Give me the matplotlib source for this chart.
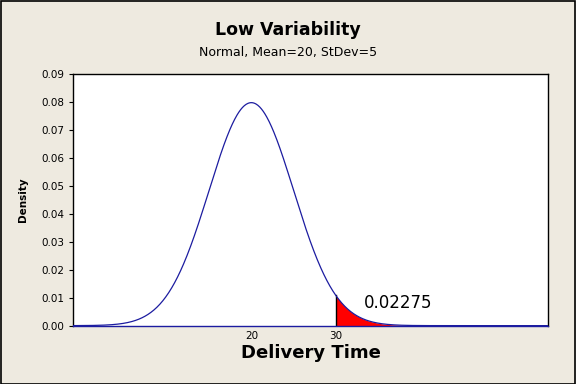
import numpy as np
import matplotlib.pyplot as plt
from matplotlib.patches import Rectangle

# Distribution shown in the chart
mean = 20
stdev = 5
cutoff = 30
tail_prob = "0.02275"

x_ticks = [20, 30]
y_ticks = [0.00, 0.01, 0.02, 0.03, 0.04, 0.05, 0.06, 0.07, 0.08, 0.09]

bg = "#EEEAE0"
curve_col = "#1C1CA0"

fig = plt.figure(figsize=(5.76, 3.84), dpi=100, facecolor=bg)
ax = fig.add_axes([0.1267, 0.152, 0.8247, 0.655])

x = np.linspace(-1.1, 55.1, 800)
pdf = np.exp(-0.5 * ((x - mean) / stdev) ** 2) / (stdev * np.sqrt(2 * np.pi))
ax.plot(x, pdf, color=curve_col, lw=0.9, zorder=3)

# shaded right tail
xt = x[x >= cutoff]
xt = np.concatenate([[cutoff], xt])
pt = np.exp(-0.5 * ((xt - mean) / stdev) ** 2) / (stdev * np.sqrt(2 * np.pi))
ax.fill_between(xt, 0, pt, color="#FF0000", lw=0, zorder=2)
ax.plot([cutoff, cutoff], [0, pt[0]], color="black", lw=1.0, zorder=2)

ax.text(33.3, 0.0082, tail_prob, fontsize=12, va="center", ha="left")

ax.set_xlim(-1.1, 55.1)
ax.set_ylim(0, 0.09)
ax.set_xticks(x_ticks)
ax.set_yticks(y_ticks)
ax.set_yticklabels([f"{v:.2f}" for v in y_ticks])
ax.tick_params(axis="both", labelsize=7.5, length=3, width=0.8)
ax.tick_params(axis="x", length=0, pad=4)
for s in ax.spines.values():
    s.set_linewidth(1.0)
ax.spines["bottom"].set_color(curve_col)

ax.set_ylabel("Density", fontsize=7.5, fontweight="bold", labelpad=9)
ax.set_xlabel("Delivery Time", fontsize=13, fontweight="bold", labelpad=2)

fig.text(0.5, 0.921, "Low Variability", ha="center", va="center",
         fontsize=12.5, fontweight="bold")
fig.text(0.5, 0.862, "Normal, Mean=20, StDev=5", ha="center", va="center",
         fontsize=9)

fig.patches.append(Rectangle((0.001, 0.001), 0.997, 0.997, transform=fig.transFigure,
                             fill=False, edgecolor="black", lw=1.2))

fig.savefig("out.png", dpi=100, facecolor=bg)
